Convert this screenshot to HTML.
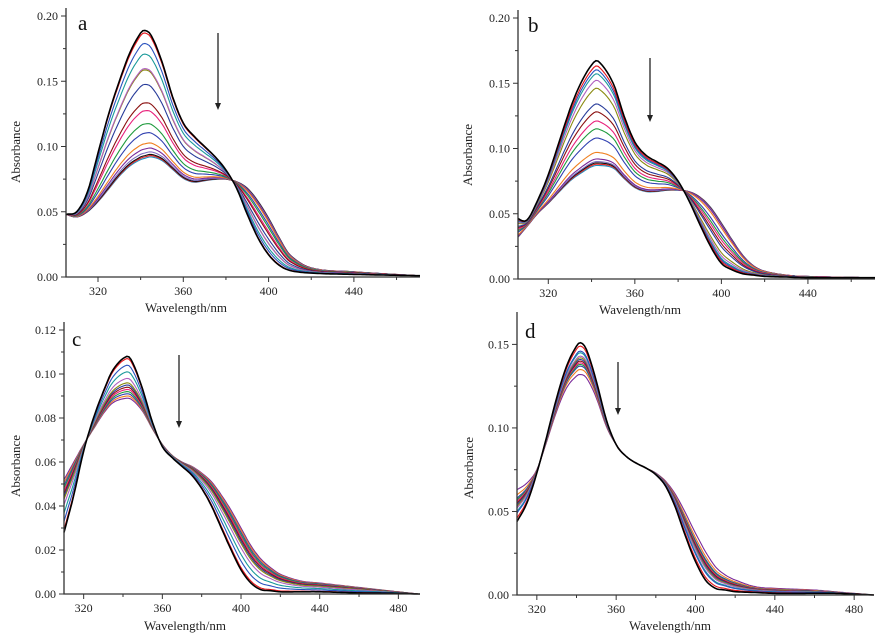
<!DOCTYPE html>
<html><head><meta charset="utf-8">
<style>
html,body{margin:0;padding:0;background:#fff;}
svg{display:block;font-family:"Liberation Serif",serif;}
</style></head>
<body>
<svg id="chart" width="882" height="637" viewBox="0 0 882 637" xmlns="http://www.w3.org/2000/svg"></svg>
<script>
// ---- data ----
const wlA = [305,310,315,320,325,330,335,340,342,345,350,355,360,365,370,375,380,385,390,395,400,405,410,420,440,470];
const startA = [0.048,0.050,0.065,0.095,0.125,0.150,0.172,0.187,0.189,0.185,0.165,0.138,0.118,0.108,0.100,0.092,0.082,0.068,0.048,0.030,0.017,0.009,0.005,0.003,0.002,0.001];
const endA   = [0.048,0.046,0.050,0.058,0.068,0.078,0.086,0.091,0.092,0.093,0.090,0.083,0.076,0.073,0.074,0.075,0.075,0.073,0.068,0.058,0.045,0.030,0.017,0.007,0.004,0.001];
const peaksA = [0.189,0.187,0.179,0.171,0.160,0.159,0.148,0.134,0.128,0.118,0.111,0.103,0.099,0.096,0.094,0.093,0.092];

const wlB = [305,310,315,320,330,335,340,343,350,355,360,365,370,375,380,385,390,395,400,405,410,415,420,430,440,470];
const startB = [0.047,0.045,0.060,0.080,0.130,0.150,0.164,0.167,0.150,0.125,0.105,0.095,0.090,0.085,0.075,0.060,0.042,0.025,0.012,0.007,0.004,0.003,0.002,0.0015,0.001,0.001];
const endB   = [0.030,0.040,0.050,0.058,0.075,0.081,0.086,0.087,0.085,0.077,0.070,0.067,0.067,0.068,0.068,0.067,0.063,0.055,0.043,0.030,0.018,0.010,0.006,0.003,0.002,0.001];
const peaksB = [0.167,0.163,0.160,0.157,0.152,0.146,0.134,0.128,0.121,0.115,0.108,0.097,0.092,0.090,0.089,0.088,0.087];

const wlC = [310,315,320,325,330,335,342,345,350,355,360,365,370,375,380,385,390,395,400,405,410,415,420,430,440,460,480,490];
const startC = [0.028,0.045,0.065,0.080,0.092,0.102,0.108,0.105,0.093,0.078,0.067,0.062,0.058,0.054,0.048,0.040,0.030,0.020,0.011,0.005,0.002,0.0015,0.001,0.001,0.001,0.0005,0.0003,0];
const endC   = [0.052,0.060,0.068,0.075,0.082,0.087,0.089,0.088,0.083,0.075,0.068,0.063,0.060,0.058,0.055,0.051,0.045,0.038,0.030,0.022,0.016,0.012,0.009,0.006,0.005,0.003,0.001,0];
const peaksC = [0.108,0.107,0.104,0.101,0.098,0.096,0.095,0.094,0.093,0.092,0.091,0.090,0.089];

const wlD = [310,315,320,325,330,335,340,342,345,350,355,360,365,370,375,380,385,390,395,400,405,410,415,420,430,440,460,470,480,490];
const startD = [0.044,0.055,0.073,0.095,0.118,0.137,0.149,0.151,0.147,0.128,0.105,0.090,0.083,0.079,0.076,0.072,0.065,0.052,0.035,0.020,0.009,0.004,0.003,0.002,0.0015,0.001,0.001,0.001,0.0005,0];
const endD   = [0.063,0.067,0.075,0.092,0.110,0.124,0.131,0.132,0.130,0.118,0.101,0.090,0.083,0.079,0.076,0.073,0.068,0.060,0.049,0.037,0.026,0.017,0.012,0.009,0.005,0.004,0.003,0.002,0.001,0];
const peaksD = [0.151,0.149,0.146,0.145,0.143,0.142,0.141,0.140,0.139,0.138,0.137,0.135,0.132];

const xTicksA = [320,360,400,440];
const xTicksC = [320,360,400,440,480];
const yTicksA = [0,0.05,0.10,0.15,0.20];
const yTicksC = [0,0.02,0.04,0.06,0.08,0.10,0.12];
const yTicksD = [0,0.05,0.10,0.15];

const colors = ["#000000","#e8141b","#2a52be","#1a9a9a","#b060c0","#8a8a10","#283c9a","#8b1010","#e8207a","#1e9a3c","#3040b0","#f08020","#7a2a9a","#8070c0","#101010","#e02020","#2090c0","#40a040"];

// ---- layout ----
const panels = [
 {key:"a",wl:wlA,s:startA,e:endA,p:peaksA,x0:66,x1:420,w0:305,w1:471,yT:277,yB:16,vT:0,vB:0.20,xt:xTicksA,yt:yTicksA,dec:2,lab:"a",lx:78,ly:30,ar:[218,33,110],ttl:[186,312],yl:[20,152]},
 {key:"b",wl:wlB,s:startB,e:endB,p:peaksB,x0:518,x1:875,w0:306,w1:471,yT:279,yB:18,vT:0,vB:0.20,xt:xTicksA,yt:yTicksA,dec:2,lab:"b",lx:528,ly:32,ar:[650,58,122],ttl:[640,314],yl:[472,155]},
 {key:"c",wl:wlC,s:startC,e:endC,p:peaksC,x0:64,x1:420,w0:310,w1:491,yT:594,yB:330,vT:0,vB:0.12,xt:xTicksC,yt:yTicksC,dec:2,lab:"c",lx:72,ly:346,ar:[179,355,428],ttl:[185,630],yl:[20,466]},
 {key:"d",wl:wlD,s:startD,e:endD,p:peaksD,x0:517,x1:874,w0:310,w1:490,yT:595,yB:320,vT:0,vB:0.1646,xt:xTicksC,yt:yTicksD,dec:2,lab:"d",lx:525,ly:338,ar:[618,362,415],ttl:[670,630],yl:[473,468]}
];

const svg = document.getElementById('chart');
const NS = "http://www.w3.org/2000/svg";
function mk(tag, attrs, parent){const el=document.createElementNS(NS,tag);for(const k in attrs)el.setAttribute(k,attrs[k]);(parent||svg).appendChild(el);return el;}
function interp(wl, arr, w){
  if(w<=wl[0])return arr[0];
  for(let i=1;i<wl.length;i++){if(w<=wl[i]){const t=(w-wl[i-1])/(wl[i]-wl[i-1]);const a0=arr[i-1],a1=arr[i];const m0=(i>1)?(arr[i]-arr[i-2])/(wl[i]-wl[i-2]):(a1-a0)/(wl[i]-wl[i-1]);const m1=(i<wl.length-1)?(arr[i+1]-arr[i-1])/(wl[i+1]-wl[i-1]):(a1-a0)/(wl[i]-wl[i-1]);const h=wl[i]-wl[i-1];const t2=t*t,t3=t2*t;return (2*t3-3*t2+1)*a0+(t3-2*t2+t)*h*m0+(-2*t3+3*t2)*a1+(t3-t2)*h*m1;}}
  return arr[arr.length-1];
}

panels.forEach(P=>{
  const g = mk('g',{});
  
  
  const xs = w=>P.x0+(w-P.w0)/(P.w1-P.w0)*(P.x1-P.x0);
  const ys = v=>P.yT-(v-P.vT)/(P.vB-P.vT)*(P.yT-P.yB);
  const ps=Math.max(...P.s), pe=Math.max(...P.e);
  const curves = mk('g',{},g);
  
  
  for(let c=P.p.length-1;c>=0;c--){
    const f=(ps-P.p[c])/(ps-pe);
    let d="";
    for(let w=P.w0;w<=P.w1;w+=1){
      const v=(1-f)*interp(P.wl,P.s,w)+f*interp(P.wl,P.e,w);
      d+=(d?"L":"M")+xs(w).toFixed(1)+","+ys(v).toFixed(1);
    }
    const path=mk('path',{d:d,fill:"none",stroke:colors[c%colors.length],"stroke-width":(c===0?1.6:1.1)},curves);
    
    
  }
  const ax=mk('path',{d:`M${P.x0},${P.yB-8}L${P.x0},${P.yT}L${P.x1},${P.yT}`,fill:"none",stroke:"#333","stroke-width":1.3},g);
  
  
  P.xt.forEach(t=>{
    mk('line',{x1:xs(t),x2:xs(t),y1:P.yT,y2:P.yT+5,stroke:"#333"},g);
    if(t+20<=P.w1) mk('line',{x1:xs(t+20),x2:xs(t+20),y1:P.yT,y2:P.yT+3,stroke:"#333"},g);
    const tx=mk('text',{x:xs(t),y:P.yT+18,"font-size":12,"text-anchor":"middle",fill:"#222"},g);
    tx.textContent=t;
    
    
  });
  if(P.xt[0]-20>=P.w0) mk('line',{x1:xs(P.xt[0]-20),x2:xs(P.xt[0]-20),y1:P.yT,y2:P.yT+3,stroke:"#333"},g);
  P.yt.forEach((t,i)=>{
    mk('line',{x1:P.x0-5,x2:P.x0,y1:ys(t),y2:ys(t),stroke:"#333"},g);
    if(i<P.yt.length-1){const m=(t+P.yt[i+1])/2;mk('line',{x1:P.x0-3,x2:P.x0,y1:ys(m),y2:ys(m),stroke:"#333"},g);}
    const tx=mk('text',{x:P.x0-8,y:ys(t)+4,"font-size":12,"text-anchor":"end",fill:"#222"},g);
    tx.textContent=t.toFixed(P.dec);
    
    
  });
  const xt=mk('text',{x:P.ttl[0],y:P.ttl[1],"font-size":13,"text-anchor":"middle",fill:"#222"},g);
  xt.textContent="Wavelength/nm";
  
  
  const yt=mk('text',{x:P.yl[0],y:P.yl[1],"font-size":13,"text-anchor":"middle",fill:"#222",transform:`rotate(-90 ${P.yl[0]} ${P.yl[1]})`},g);
  yt.textContent="Absorbance";
  
  
  const lb=mk('text',{x:P.lx,y:P.ly,"font-size":21,fill:"#111"},g);
  lb.textContent=P.lab;
  
  
  const ar=mk('g',{},g);
  
  
  mk('line',{x1:P.ar[0],x2:P.ar[0],y1:P.ar[1],y2:P.ar[2]-5,stroke:"#222","stroke-width":1.3},ar);
  mk('path',{d:`M${P.ar[0]-3},${P.ar[2]-7}L${P.ar[0]+3},${P.ar[2]-7}L${P.ar[0]},${P.ar[2]}Z`,fill:"#222"},ar);
});
</script>
</body></html>
